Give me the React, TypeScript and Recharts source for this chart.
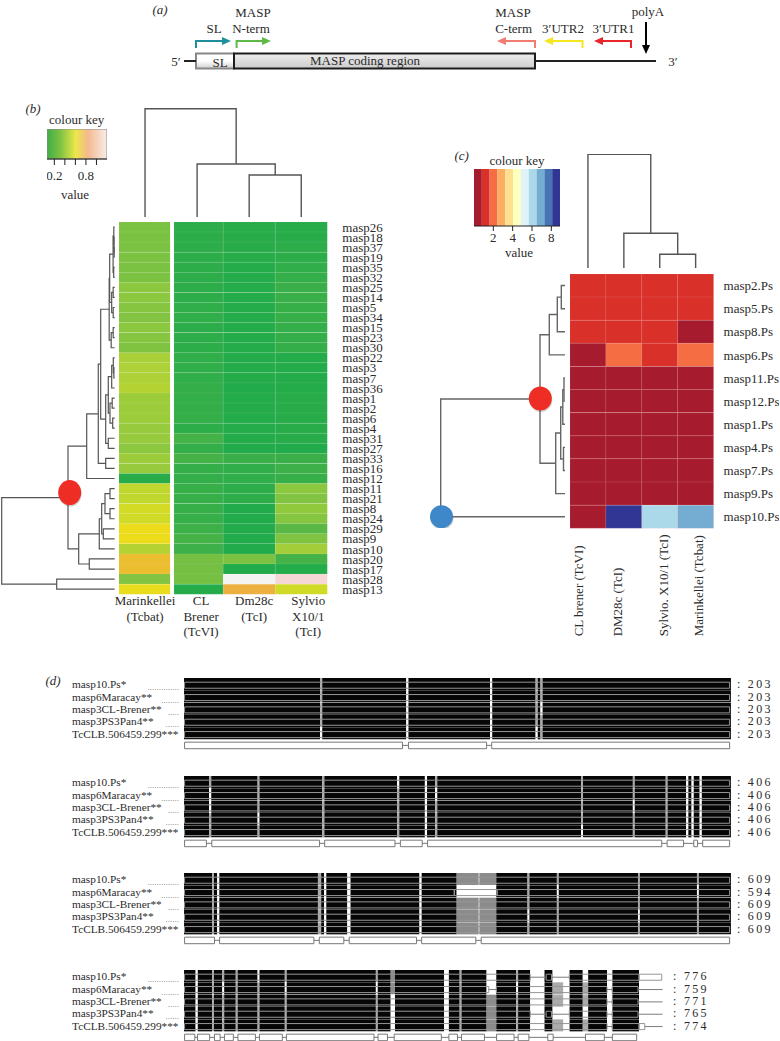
import React from "react";
import {
  Bar,
  BarChart,
  Cell,
  LabelList,
  ReferenceArea,
  Scatter,
  ScatterChart,
  XAxis,
  YAxis,
} from "recharts";

const FONT = '"Liberation Serif", "Times New Roman", serif';
const INK = "#2b2b2b";

// ---- panel (b): expression heat map, values
const rowsB = [
  "masp26", "masp18", "masp37", "masp19", "masp35", "masp32", "masp25", "masp14", "masp5", "masp34",
  "masp15", "masp23", "masp30", "masp22", "masp3", "masp7", "masp36", "masp1", "masp2", "masp6",
  "masp4", "masp31", "masp27", "masp33", "masp16", "masp12", "masp11", "masp21", "masp8", "masp24",
  "masp29", "masp9", "masp10", "masp20", "masp17", "masp28", "masp13",
];
const marinkellei = [
  0.25, 0.25, 0.25, 0.25, 0.25, 0.25, 0.3, 0.3, 0.28, 0.27, 0.3, 0.28, 0.26, 0.4, 0.41, 0.41, 0.43, 0.36, 0.36,
  0.36, 0.34, 0.34, 0.3, 0.36, 0.34, 0.1, 0.46, 0.46, 0.51, 0.5, 0.58, 0.58, 0.43, 0.67, 0.67, 0.27, 0.57,
];
const clBrener = [
  0.11, 0.11, 0.11, 0.11, 0.11, 0.11, 0.11, 0.11, 0.12, 0.12, 0.11, 0.11, 0.11, 0.12, 0.12, 0.12, 0.13, 0.13, 0.13,
  0.13, 0.11, 0.17, 0.13, 0.17, 0.13, 0.13, 0.14, 0.14, 0.14, 0.14, 0.16, 0.17, 0.16, 0.24, 0.24, 0.24, 0.09,
];
const dm28c = [
  0.1, 0.1, 0.1, 0.1, 0.09, 0.09, 0.09, 0.09, 0.09, 0.09, 0.09, 0.09, 0.09, 0.09, 0.09, 0.09, 0.08, 0.09, 0.09,
  0.09, 0.09, 0.09, 0.08, 0.15, 0.12, 0.12, 0.11, 0.11, 0.08, 0.08, 0.08, 0.08, 0.08, 0.25, 0.08, 1.1, 0.72,
];
const sylvio = [
  0.1, 0.1, 0.11, 0.11, 0.12, 0.13, 0.15, 0.15, 0.14, 0.14, 0.13, 0.13, 0.13, 0.09, 0.09, 0.09, 0.09, 0.1, 0.1,
  0.1, 0.1, 0.1, 0.08, 0.15, 0.16, 0.14, 0.3, 0.27, 0.32, 0.28, 0.2, 0.26, 0.38, 0.17, 0.09, 1.0, 0.5,
];
const columnsB = [marinkellei, clBrener, dm28c, sylvio];
const strainsB = [
  ["Marinkellei", "(Tcbat)"],
  ["CL", "Brener", "(TcVI)"],
  ["Dm28c", "(TcI)"],
  ["Sylvio", "X10/1", "(TcI)"],
];
const labelNudgeB = [0, 4, 5, 7];
const keyTicksB = [0.2, 0.4, 0.6, 0.8, 1.0];

// ---- panel (c)
const rowsC = [
  "masp2.Ps", "masp5.Ps", "masp8.Ps", "masp6.Ps", "masp11.Ps", "masp12.Ps", "masp1.Ps", "masp4.Ps", "masp7.Ps",
  "masp9.Ps", "masp10.Ps",
];
const clBrenerC = [1.2, 1.2, 1.2, 0.5, 0.5, 0.5, 0.5, 0.5, 0.5, 0.5, 0.5];
const dm28cC = [1.2, 1.2, 1.2, 2.0, 0.5, 0.5, 0.5, 0.5, 0.5, 0.5, 8.5];
const sylvioC = [1.2, 1.2, 1.2, 1.2, 0.5, 0.5, 0.5, 0.5, 0.5, 0.5, 6.0];
const marinkelleiC = [1.2, 1.2, 0.5, 2.0, 0.5, 0.5, 0.5, 0.5, 0.5, 0.5, 6.8];
const columnsC = [clBrenerC, dm28cC, sylvioC, marinkelleiC];
const strainsC = ["CL brener (TcVI)", "DM28c (TcI)", "Sylvio. X10/1 (TcI)", "Marinkellei (Tcbat)"];
const labelNudgeC = [-9, -6, 4, 3];
const bandColors = [
  "#a61c2e", "#d9302a", "#f46d43", "#fdae61", "#fee090", "#ffffbf", "#e0f3f8", "#abd9e9", "#74add1", "#4575b4", "#313695",
];
const BAND = 0.809;
const keyTicksC = [2, 4, 6, 8];

// ---- dendrograms: [height, child, child], a bare number is a leaf index
type Tree = number | [number, Tree, Tree];
const redClusterB: Tree = [
  46.7,
  [
    28,
    [
      16.4,
      [
        14,
        [
          5.5,
          [
            5,
            [1.6, [0.9, 0, [0.7, 1, [0.5, 2, 3]]], [1, 4, 5]],
            [3, [1.5, 6, 7], [1.5, 8, 9]],
          ],
          [3.5, [1.5, 10, 11], 12],
        ],
        [
          9,
          [
            6.4,
            [3, [1.4, 13, [0.8, 14, 15]], 16],
            [4.7, [2.5, 17, 18], [2, 19, 20]],
          ],
          [6.4, 21, 22],
        ],
      ],
      [9, 23, 24],
    ],
    25,
  ],
  [
    36,
    [15.4, [13, [9.7, [4.7, 26, 27], [4.7, 28, 29]], [11.4, 30, 31]], 32],
    [25.4, 33, 34],
  ],
];
const sideTreeB: Tree = [113, redClusterB, [58, 35, 36]];
const topTreeB: Tree = [108.3, 0, [53, 1, [42, 2, 3]]];
const sideTreeC: Tree = [
  124.3,
  [
    25,
    [15.7, [7.7, [3.7, 0, 1], 2], 3],
    [9.3, [4.3, [2.2, [1, 4, 5], 6], [1.5, 7, 8]], 9],
  ],
  10,
];
const topTreeC: Tree = [113.7, 0, [34.7, 1, [13.7, 2, 3]]];

// ---- panel (d): alignment blocks, columns read against the 203 residue width
const seqNames = ["masp10.Ps*", "masp6Maracay**", "masp3CL-Brener**", "masp3PS3Pan4**", "TcCLB.506459.299***"];
const dotCounts = [14, 8, 5, 6, 2];

const gapColsD1 = [50.5, 82.5, 113.6, 130.5, 132.3];
const gapSpansD1 = [0.8, 0.8, 0.8, 0.8, 0.8];
const gapShadesD1 = ["ggggw", "wwwww", "wwwww", "ggggw", "ggwgg"];
const exonsD1 = [[0.2, 81.1], [83.3, 112.3], [114.2, 202.5]];
const totalsD1 = [203, 203, 203, 203, 203];

const gapColsD2 = [9.3, 27.3, 51.3, 79.1, 89.4, 93.2, 147.4, 166.6, 178.8, 186.4, 188.4, 191.4];
const gapSpansD2 = [0.8, 0.7, 0.8, 0.8, 0.8, 0.8, 0.7, 0.7, 0.7, 0.8, 0.8, 0.8];
const gapShadesD2 = [
  "gwwgg", "gggwg", "ggggg", "wgggg", "wwwww", "gwggg", "ggggw", "ggwgg", "ggggg", "wwwww", "wwwww", "wwwww",
];
const exonsD2 = [
  [0.2, 8.3], [10.3, 50.3], [52.2, 78.3], [80.3, 88.4], [90.4, 177.3], [179.3, 185.4], [189.2, 190.6], [192.5, 202.5],
];
const totalsD2 = [406, 406, 406, 406, 406];

const gapColsD3 = [10.4, 12.3, 49.7, 52, 60.6, 87.4, 101.2, 109.3, 109.8, 127.5, 138.4, 168.5, 190.4];
const gapSpansD3 = [0.7, 0.8, 1.2, 0.8, 1.2, 0.8, 8.1, 0.5, 6.1, 0.7, 0.7, 0.7, 0.7];
const gapShadesD3 = [
  "ggggg", "wwwww", "ggggg", "wwwww", "wwwww", "wwwww", "bwbbb", "gwggg", "bwbbb", "gggwg", "gwggg", "gggwg", "gwggg",
];
const exonsD3 = [[0.2, 11.3], [13.2, 48.2], [50.2, 59.3], [61.3, 86.3], [88.2, 108.3], [110.3, 202.5]];
const totalsD3 = [609, 594, 609, 609, 609];
const rowBoxesD3 = [
  [[0.2, 202.5]],
  [[0.2, 100.3], [100.3, 116.2], [116.2, 202.5]],
  [[0.2, 202.5]],
  [[0.2, 202.5]],
  [[0.2, 202.5]],
];

const gapColsD4 = [
  4.3, 10.4, 14.2, 19.2, 27.3, 37.4, 71.2, 76.7, 96.5, 102.3, 112.3, 123.3, 128.5, 136.8, 140.8, 148, 157, 168.9,
];
const gapSpansD4 = [0.8, 0.7, 0.7, 0.7, 0.7, 0.7, 0.7, 1.6, 1.8, 0.7, 3.6, 0.7, 5.3, 4, 2.3, 2, 2, 8.5];
const gapShadesD4 = [
  "wwwww", "ggggg", "gwggg", "ggggg", "wgggg", "gwggg", "gwggg", "bbwww", "wwwww", "ggggg", "wwbbb", "gwggg",
  "wwwww", "wggwg", "wwwww", "wggwg", "wwwww", "wwwww",
];
const exonsD4 = [
  [0.2, 4], [5, 9.5], [11.3, 13.4], [15, 18.3], [20, 26.5], [28, 36.5], [38, 70.5], [72, 75.5], [78, 95.5],
  [98.3, 101.5], [103, 111.5], [116, 122.5], [124, 128], [135, 137], [149, 156], [159, 168],
];
const totalsD4 = [776, 759, 771, 765, 774];
const rowBoxesD4 = [
  [[0.2, 128.5], [134.4, 136.4], [143, 168.9], [168.9, 177.3]],
  [[0.2, 113.1], [115.9, 157], [158.9, 168.5], [177.6, 177.6]],
  [[0.2, 157], [158.9, 168.5], [177.6, 177.6]],
  [[0.2, 128.5], [134.4, 136.4], [143, 157], [158.9, 168.5], [177.6, 177.6]],
  [[0.2, 157], [158.9, 168.9], [168.9, 171], [177.6, 177.6]],
];

// ---- panel (a): gene map, x is position along the transcript, y is the drawing level
const geneStub = [14, 26];
const slBox = [26, 64];
const codingBox = [64, 365];
const geneTail = [365, 486];
const primers = [
  { color: "#1f8f9e", from: 26, to: 61 },
  { color: "#5cb947", from: 66.6, to: 101 },
  { color: "#f47b70", from: 365, to: 327 },
  { color: "#f5e61f", from: 412.5, to: 374 },
  { color: "#e8262c", from: 461, to: 424 },
];
const polyASite = 476;

// ---- helpers
const greenStops: [number, string][] = [
  [0.08, "#21ab4a"],
  [0.16, "#3eb049"],
  [0.25, "#7cc242"],
  [0.4, "#a9d038"],
  [0.5, "#cfdb27"],
  [0.58, "#ecdc1a"],
  [0.66, "#eac12c"],
  [0.72, "#ecb040"],
  [0.85, "#f4b98d"],
  [1, "#f5d8d6"],
  [1.1, "#f4f4f2"],
];

function hexMix(a: string, b: string, t: number) {
  const ch = (s: string, i: number) => parseInt(s.slice(1 + i * 2, 3 + i * 2), 16);
  const out = [0, 1, 2].map((i) => Math.round(ch(a, i) + (ch(b, i) - ch(a, i)) * t));
  return `rgb(${out.join(",")})`;
}

function greenScale(v: number) {
  if (v <= greenStops[0][0]) return greenStops[0][1];
  for (let i = 1; i < greenStops.length; i++) {
    if (v <= greenStops[i][0]) {
      const [a, ca] = greenStops[i - 1];
      const [b, cb] = greenStops[i];
      return hexMix(ca, cb, (v - a) / (b - a));
    }
  }
  return greenStops[greenStops.length - 1][1];
}

const bandScale = (v: number) => bandColors[Math.min(Math.floor(v / BAND), bandColors.length - 1)];

type Pt = { x: number; y: number };
type PathDef = { points: Pt[]; color?: string; width?: number };

// flattens a tree to one three-sided bracket per merge
function treePaths(tree: Tree, side: boolean, color: string, width = 1.2): PathDef[] {
  const out: PathDef[] = [];
  const walk = (t: Tree): { h: number; pos: number } => {
    if (typeof t === "number") return { h: 0, pos: t + 0.5 };
    const [h, a, b] = t;
    const A = walk(a);
    const B = walk(b);
    const raw = [
      [A.h, A.pos],
      [h, A.pos],
      [h, B.pos],
      [B.h, B.pos],
    ];
    out.push({
      points: raw.map(([hh, pos]) => (side ? { x: hh, y: pos } : { x: pos, y: hh })),
      color,
      width,
    });
    return { h, pos: (A.pos + B.pos) / 2 };
  };
  walk(tree);
  return out;
}

const noMark = () => <g />;

function Ellipse({ cx, cy, payload }: any) {
  return (
    <g>
      <ellipse cx={cx + 0.5} cy={cy + 1.5} rx={payload.rx} ry={payload.ry} fill="#000" opacity={0.18} />
      <ellipse cx={cx} cy={cy} rx={payload.rx} ry={payload.ry} fill={payload.color} />
    </g>
  );
}

function ArrowHead({ cx, cy, payload }: any) {
  const { dx, dy, color } = payload;
  const bx = cx - dx * 9;
  const by = cy - dy * 9;
  const pts = `${cx},${cy} ${bx - dy * 4},${by - dx * 4} ${bx + dy * 4},${by + dx * 4}`;
  return <polygon points={pts} fill={color} />;
}

function PathChart({
  left, top, width, height, xDomain, yDomain, paths, nodes, heads, xReversed, yReversed, children,
}: any) {
  return (
    <div style={{ position: "absolute", left, top }}>
      <ScatterChart width={width} height={height} margin={{ top: 0, right: 0, bottom: 0, left: 0 }}>
        <XAxis type="number" dataKey="x" domain={xDomain} reversed={xReversed} hide />
        <YAxis type="number" dataKey="y" domain={yDomain} reversed={yReversed} hide />
        {children}
        {paths.map((p: PathDef, i: number) => (
          <Scatter
            key={i}
            data={p.points}
            line={{ stroke: p.color ?? "#777", strokeWidth: p.width ?? 1 }}
            shape={noMark}
            isAnimationActive={false}
          />
        ))}
        {heads && <Scatter data={heads} shape={<ArrowHead />} isAnimationActive={false} />}
        {nodes && <Scatter data={nodes} shape={<Ellipse />} isAnimationActive={false} />}
      </ScatterChart>
    </div>
  );
}

function Txt({ x, y, children, anchor = "middle", size = 13, italic = false, color = INK, rotate }: any) {
  const tx = anchor === "middle" ? "-50%" : anchor === "end" ? "-100%" : "0";
  return (
    <div
      style={{
        position: "absolute",
        left: x,
        top: y,
        transform: `translate(${tx},-50%)${rotate ? ` rotate(${rotate}deg)` : ""}`,
        fontFamily: FONT,
        fontSize: size,
        fontStyle: italic ? "italic" : "normal",
        color,
        whiteSpace: "nowrap",
        lineHeight: 1,
      }}
    >
      {children}
    </div>
  );
}

const axisText = { fontSize: 13, fontFamily: FONT, fill: INK };

function StrainTickB({ x, y, payload }: any) {
  const i = Math.floor(payload.value);
  const px = x + labelNudgeB[i];
  return (
    <text x={px} y={y} textAnchor="middle" style={axisText}>
      {strainsB[i].map((l, k) => (
        <tspan key={k} x={px} dy={k === 0 ? 3 : 15.6}>
          {l}
        </tspan>
      ))}
    </text>
  );
}

function StrainTickC({ x, y, payload }: any) {
  const i = Math.floor(payload.value);
  const px = x + labelNudgeC[i];
  const py = y + 100;
  return (
    <text
      x={px}
      y={py}
      dominantBaseline="central"
      transform={`rotate(-90 ${px} ${py})`}
      style={axisText}
    >
      {strainsC[i]}
    </text>
  );
}

function HeatMap({ left, top, plotW, plotH, axisH, labelW, pad = 0, rows, columns, scale, tick, labelGap, line, gap }: any) {
  // with a gap the first column stops short and the second one starts late
  const table = rows.map((name: string) => ({
    name,
    c0: gap ? gap[0] : 1,
    gapBar: gap ? gap[1] - gap[0] : 0,
    c1: gap ? 2 - gap[1] : 1,
    c2: 1,
    c3: 1,
  }));
  return (
    <div style={{ position: "absolute", left: left - pad, top }}>
      <BarChart
        layout="vertical"
        width={pad + plotW + labelW}
        height={plotH + axisH}
        data={table}
        barCategoryGap={0}
        margin={{ top: 0, right: 0, bottom: 0, left: pad }}
      >
        <XAxis
          type="number"
          domain={[0, 4]}
          ticks={[0.5, 1.5, 2.5, 3.5]}
          height={axisH}
          interval={0}
          axisLine={false}
          tickLine={false}
          tick={tick}
        />
        <YAxis
          type="category"
          dataKey="name"
          orientation="right"
          width={labelW}
          interval={0}
          axisLine={false}
          tickLine={false}
          tickMargin={labelGap}
          tick={axisText}
        />
        <Bar dataKey="c0" stackId="h" stroke={line} strokeWidth={0.6} isAnimationActive={false}>
          {columns[0].map((v: number, r: number) => (
            <Cell key={r} fill={scale(v)} />
          ))}
        </Bar>
        <Bar dataKey="gapBar" stackId="h" fill="#ffffff" isAnimationActive={false} />
        {columns.slice(1).map((col: number[], c: number) => (
          <Bar key={c} dataKey={`c${c + 1}`} stackId="h" stroke={line} strokeWidth={0.6} isAnimationActive={false}>
            {col.map((v, r) => (
              <Cell key={r} fill={scale(v)} />
            ))}
          </Bar>
        ))}
      </BarChart>
    </div>
  );
}

const shadeFill: Record<string, string> = { k: "#060606", g: "#ababab", w: "#ffffff", b: "#8b8b8b" };
const ROW_PITCH = 12.34;

function SeqTick({ y, payload, index }: any) {
  return (
    <g>
      <text x={0} y={y + 4} style={{ fontSize: 11.3, fontFamily: FONT, fill: INK }}>
        {payload.value}
      </text>
      <text
        x={107}
        y={y + (index === 4 ? 11 : 6)}
        textAnchor="end"
        style={{ fontSize: 9, fontFamily: FONT, fill: "#777" }}
      >
        {".".repeat(dotCounts[index])}
      </text>
    </g>
  );
}

function AlignBlock({ top, cols, spans, shades, exons, totals, rowBoxes, end, labelOffset = 6 }: any) {
  // black runs and the variable columns between them, one stacked series per run
  const segs: { len: number; shade: string }[] = [];
  let pos = 0;
  cols.forEach((at: number, i: number) => {
    segs.push({ len: at - pos, shade: "kkkkk" });
    segs.push({ len: spans[i], shade: shades[i] });
    pos = at + spans[i];
  });
  segs.push({ len: Math.max(end - pos, 0), shade: "kkkkk" });
  const table = seqNames.map((name, r) => {
    const row: any = { name, total: totals[r], pad: 0.01 };
    segs.forEach((s, k) => (row[`s${k}`] = s.len));
    return row;
  });

  const boxes = rowBoxes ?? seqNames.map(() => [[0.2, 202.5]]);
  const paths: PathDef[] = [];
  const rect = (a: number, b: number, y0: number, y1: number, color: string) => {
    if (b - a <= 0) return;
    paths.push({
      points: [
        { x: a, y: y0 },
        { x: b, y: y0 },
        { x: b, y: y1 },
        { x: a, y: y1 },
        { x: a, y: y0 },
      ],
      color,
    });
  };
  const links = (list: number[][], mid: number, color: string) => {
    list.slice(1).forEach((box, i) => {
      const from = list[i][1];
      if (box[0] > from) paths.push({ points: [{ x: from, y: mid }, { x: box[0], y: mid }], color });
    });
  };
  boxes.forEach((list: number[][], r: number) => {
    list.forEach((b) => rect(b[0], b[1], r + 0.34, r + 0.83, "#979797"));
    links(list, r + 0.585, "#7a7a7a");
  });
  exons.forEach((b: number[]) => rect(b[0], b[1], 5.2, 5.73, "#777"));
  links(exons, 5.46, "#777");

  return (
    <>
      <div style={{ position: "absolute", left: 72, top }}>
        <BarChart
          layout="vertical"
          width={708}
          height={ROW_PITCH * 5}
          data={table}
          barCategoryGap={0}
          margin={{ top: 0, right: 49, bottom: 0, left: 0 }}
        >
          <XAxis type="number" domain={[0, 203]} hide />
          <YAxis
            type="category"
            dataKey="name"
            width={112}
            interval={0}
            axisLine={false}
            tickLine={false}
            tick={<SeqTick />}
          />
          {segs.map((s, k) => (
            <Bar key={k} dataKey={`s${k}`} stackId="a" isAnimationActive={false}>
              {seqNames.map((_, r) => (
                <Cell key={r} fill={shadeFill[s.shade[r]]} />
              ))}
            </Bar>
          ))}
          <Bar dataKey="pad" stackId="a" fill="none" isAnimationActive={false}>
            <LabelList
              dataKey="total"
              position="right"
              offset={labelOffset}
              formatter={(v: any) => `:\u00a0${v}`}
              style={{ fontSize: 12, fontFamily: FONT, fill: INK, letterSpacing: 2.3 }}
            />
          </Bar>
        </BarChart>
      </div>
      <PathChart
        left={184}
        top={top}
        width={547}
        height={ROW_PITCH * 6}
        xDomain={[0, 203]}
        yDomain={[0, 6]}
        yReversed
        paths={paths}
      />
    </>
  );
}

function GeneMap() {
  const level = 61;
  const lines: PathDef[] = [
    { points: [{ x: geneStub[0], y: level }, { x: geneStub[1], y: level }], color: "#222", width: 2 },
    { points: [{ x: geneTail[0], y: level }, { x: geneTail[1], y: level }], color: "#222", width: 2 },
    { points: [{ x: polyASite, y: 22 }, { x: polyASite, y: 48 }], color: "#000", width: 2 },
  ];
  const heads = [{ x: polyASite, y: 54, dx: 0, dy: 1, color: "#000" }];
  primers.forEach((p) => {
    lines.push({
      points: [{ x: p.from, y: 48 }, { x: p.from, y: 41 }, { x: p.to - Math.sign(p.to - p.from) * 7, y: 41 }],
      color: p.color,
      width: 2,
    });
    heads.push({ x: p.to, y: 41, dx: Math.sign(p.to - p.from), dy: 0, color: p.color });
  });
  return (
    <PathChart
      left={170}
      top={0}
      width={510}
      height={80}
      xDomain={[0, 510]}
      yDomain={[0, 80]}
      yReversed
      paths={lines}
      heads={heads}
    >
      <defs>
        <linearGradient id="slFill" x1="0" y1="0" x2="0" y2="1">
          <stop offset="0.5" stopColor="#ffffff" />
          <stop offset="1" stopColor="#cfcfcf" />
        </linearGradient>
        <linearGradient id="cdsFill" x1="0" y1="0" x2="0" y2="1">
          <stop offset="0" stopColor="#eeeeee" />
          <stop offset="1" stopColor="#cccccc" />
        </linearGradient>
      </defs>
      <ReferenceArea x1={slBox[0]} x2={slBox[1]} y1={53.5} y2={68.5} fill="url(#slFill)" fillOpacity={1} stroke="#888" strokeWidth={2} />
      <ReferenceArea x1={codingBox[0]} x2={codingBox[1]} y1={53.5} y2={68.5} fill="url(#cdsFill)" fillOpacity={1} stroke="#1c1c1c" strokeWidth={2} />
    </PathChart>
  );
}

function KeyB() {
  return (
    <div style={{ position: "absolute", left: 46.7, top: 129 }}>
      <BarChart
        layout="vertical"
        width={60}
        height={62}
        data={[{ name: "key", span: [0.061, 1.2] }]}
        barCategoryGap={0}
        margin={{ top: 0, right: 0, bottom: 0, left: 0 }}
      >
        <defs>
          <linearGradient id="greenKey" x1="0" y1="0" x2="1" y2="0">
            <stop offset="0" stopColor="#3fae49" />
            <stop offset="0.22" stopColor="#7cc242" />
            <stop offset="0.48" stopColor="#ece84a" />
            <stop offset="0.68" stopColor="#f4b98d" />
            <stop offset="1" stopColor="#f8ecea" />
          </linearGradient>
        </defs>
        <XAxis
          type="number"
          domain={[0.061, 1.2]}
          ticks={keyTicksB}
          interval={0}
          height={32}
          stroke="#222"
          tickSize={6}
          tickMargin={6}
          tickFormatter={(v: number) => (v === 0.2 || v === 0.8 ? v.toFixed(1) : "")}
          tick={axisText}
        />
        <YAxis type="category" dataKey="name" hide />
        <Bar dataKey="span" fill="url(#greenKey)" stroke="#8a8a8a" isAnimationActive={false} />
      </BarChart>
    </div>
  );
}

function KeyC() {
  const row: any = { name: "key" };
  bandColors.forEach((_, i) => (row[`b${i}`] = BAND));
  return (
    <div style={{ position: "absolute", left: 474, top: 169 }}>
      <BarChart
        layout="vertical"
        width={86}
        height={82}
        data={[row]}
        barCategoryGap={0}
        margin={{ top: 0, right: 0, bottom: 0, left: 0 }}
      >
        <XAxis
          type="number"
          domain={[0, 8.9]}
          ticks={keyTicksC}
          interval={0}
          height={25}
          stroke="#222"
          tickSize={5}
          tick={axisText}
        />
        <YAxis type="category" dataKey="name" hide />
        {bandColors.map((c, i) => (
          <Bar key={i} dataKey={`b${i}`} stackId="k" fill={c} isAnimationActive={false} />
        ))}
      </BarChart>
    </div>
  );
}

export default function App() {
  return (
    <div style={{ position: "absolute", left: 0, top: 0, width: 780, height: 1041, background: "#fff", overflow: "hidden" }}>
      {/* panel a */}
      <GeneMap />
      <Txt x={160} y={9} italic>(a)</Txt>
      <Txt x={253} y={12}>MASP</Txt>
      <Txt x={251} y={28}>N-term</Txt>
      <Txt x={214} y={28}>SL</Txt>
      <Txt x={513} y={12}>MASP</Txt>
      <Txt x={513.6} y={28}>C-term</Txt>
      <Txt x={563} y={28}>3′UTR2</Txt>
      <Txt x={613.5} y={28}>3′UTR1</Txt>
      <Txt x={648} y={11}>polyA</Txt>
      <Txt x={176} y={61}>5′</Txt>
      <Txt x={673} y={61}>3′</Txt>
      <Txt x={220} y={62}>SL</Txt>
      <Txt x={365} y={60}>MASP coding region</Txt>

      {/* panel b */}
      <Txt x={33} y={108} italic>(b)</Txt>
      <Txt x={76.7} y={119}>colour key</Txt>
      <KeyB />
      <Txt x={75} y={193.7}>value</Txt>
      <PathChart
        left={118.7}
        top={108}
        width={208.3}
        height={109}
        xDomain={[0, 4]}
        yDomain={[0, 109]}
        paths={treePaths(topTreeB, false, "#555", 1.4)}
      />
      <PathChart
        left={0}
        top={221.7}
        width={114.7}
        height={372.2}
        xDomain={[0, 114.7]}
        yDomain={[0, rowsB.length]}
        xReversed
        yReversed
        paths={treePaths(sideTreeB, true, "#555")}
        nodes={[{ x: 45, y: 26.9, rx: 11.5, ry: 12.5, color: "#ee2d24" }]}
      />
      <HeatMap
        left={118.7}
        top={221.7}
        plotW={208.3}
        plotH={372.2}
        axisH={50}
        labelW={70}
        pad={14}
        rows={rowsB}
        columns={columnsB}
        scale={greenScale}
        tick={<StrainTickB />}
        labelGap={9}
        line="rgba(255,255,255,0.1)"
        gap={[0.985, 1.056]}
      />

      {/* panel c */}
      <Txt x={461.7} y={155} italic>(c)</Txt>
      <Txt x={517} y={160}>colour key</Txt>
      <KeyC />
      <Txt x={519} y={252}>value</Txt>
      <PathChart
        left={569.7}
        top={154}
        width={143.6}
        height={114}
        xDomain={[0, 4]}
        yDomain={[0, 114]}
        paths={treePaths(topTreeC, false, "#555", 1.4)}
      />
      <PathChart
        left={420}
        top={273.7}
        width={145}
        height={254.3}
        xDomain={[0, 145]}
        yDomain={[0, rowsC.length]}
        xReversed
        yReversed
        paths={treePaths(sideTreeC, true, "#666", 1.4)}
        nodes={[
          { x: 24.7, y: 5.39, rx: 11.5, ry: 12, color: "#ee2d24" },
          { x: 123.5, y: 10.5, rx: 11.5, ry: 11.5, color: "#3e87c9" },
        ]}
      />
      <HeatMap
        left={569.7}
        top={273.7}
        plotW={143.6}
        plotH={254.3}
        axisH={110}
        labelW={66}
        rows={rowsC}
        columns={columnsC}
        scale={bandScale}
        tick={<StrainTickC />}
        labelGap={4}
        line="rgba(255,170,170,0.2)"
      />

      {/* panel d */}
      <Txt x={53} y={680} italic>(d)</Txt>
      <AlignBlock top={678.3} cols={gapColsD1} spans={gapSpansD1} shades={gapShadesD1} exons={exonsD1} totals={totalsD1} end={203} />
      <AlignBlock top={776} cols={gapColsD2} spans={gapSpansD2} shades={gapShadesD2} exons={exonsD2} totals={totalsD2} end={203} />
      <AlignBlock top={873.3} cols={gapColsD3} spans={gapSpansD3} shades={gapShadesD3} exons={exonsD3} totals={totalsD3} rowBoxes={rowBoxesD3} end={203} />
      <AlignBlock top={970} cols={gapColsD4} spans={gapSpansD4} shades={gapShadesD4} exons={exonsD4} totals={totalsD4} rowBoxes={rowBoxesD4} end={177.4} labelOffset={11} />
    </div>
  );
}
